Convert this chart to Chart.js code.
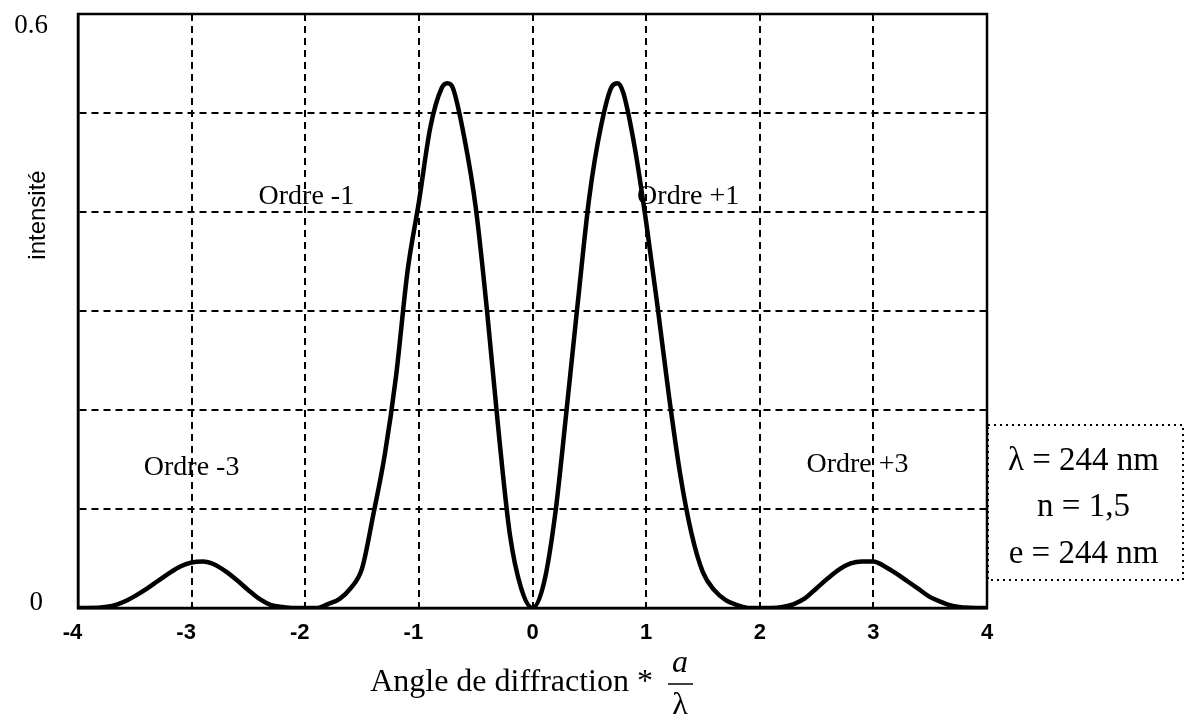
<!DOCTYPE html>
<html>
<head>
<meta charset="utf-8">
<script src="https://cdn.jsdelivr.net/npm/chart.js@4.4.1/dist/chart.umd.min.js"></script>
<style>
  html, body { margin: 0; padding: 0; background: #fff; }
  #wrap { width: 1193px; height: 718px; }
</style>
</head>
<body>
<div id="wrap"><canvas id="diffChart"></canvas></div>
<script>
// angle * a / lambda
const angles = [
  -4.0, -3.8, -3.7, -3.6, -3.5, -3.4, -3.3, -3.2, -3.1, -3.0, -2.9, -2.8, -2.7, -2.6, -2.5, -2.4, -2.3, -2.2, -2.1, -2.0,
  -1.9, -1.8, -1.7, -1.6, -1.5, -1.4, -1.3, -1.2, -1.1, -1.0, -0.9, -0.8, -0.75, -0.7, -0.6, -0.5, -0.4, -0.3, -0.2, -0.1,
  0.0, 0.1, 0.2, 0.3, 0.4, 0.5, 0.6, 0.7, 0.75, 0.8, 0.9, 1.0, 1.1, 1.2, 1.3, 1.4, 1.5, 1.6, 1.7, 1.8, 1.9,
  2.0, 2.1, 2.2, 2.3, 2.4, 2.5, 2.6, 2.7, 2.8, 2.9, 3.0, 3.1, 3.2, 3.3, 3.4, 3.5, 3.6, 3.7, 3.8, 3.9, 4.0
];
const intensity = [
  0, 0.0005, 0.002, 0.006, 0.012, 0.019, 0.027, 0.035, 0.042, 0.046, 0.047, 0.044, 0.037, 0.028, 0.018, 0.009, 0.003, 0.001, 0, 0,
  0, 0.004, 0.009, 0.02, 0.04, 0.095, 0.155, 0.235, 0.34, 0.41, 0.485, 0.525, 0.53, 0.525, 0.475, 0.405, 0.30, 0.18, 0.075, 0.02,
  0, 0.025, 0.095, 0.2, 0.31, 0.415, 0.485, 0.527, 0.53, 0.52, 0.465, 0.39, 0.305, 0.215, 0.135, 0.075, 0.036, 0.018, 0.008, 0.003, 0,
  0, 0, 0.001, 0.004, 0.01, 0.02, 0.03, 0.039, 0.045, 0.047, 0.047, 0.042, 0.035, 0.027, 0.019, 0.011, 0.006, 0.002, 0.0005, 0, 0
];

// order labels and where they sit (data units)
const orderLabels = ['Ordre -3', 'Ordre -1', 'Ordre +1', 'Ordre +3'];
const orderX = [-3.0, -1.99, 1.37, 2.86];
const orderY = [0.142, 0.416, 0.416, 0.145];

const paramLines = ['λ = 244 nm', 'n = 1,5', 'e = 244 nm'];
const yLabelValues = [0, 0.6];

const SERIF = '"Liberation Serif", "Times New Roman", serif';
const SANS = '"Liberation Sans", Arial, sans-serif';

const points = angles.map((a, i) => ({ x: a, y: intensity[i] }));

const extras = {
  id: 'extras',
  afterDatasetsDraw(chart) {
    const { ctx, chartArea: area, scales: { x, y } } = chart;
    ctx.save();

    // solid frame round the plot
    ctx.strokeStyle = '#000';
    ctx.lineWidth = 2.5;
    ctx.setLineDash([]);
    ctx.strokeRect(area.left, area.top, area.right - area.left, area.bottom - area.top);

    ctx.fillStyle = '#000';
    ctx.textBaseline = 'middle';

    // y labels, only the ends of the axis
    ctx.font = '27px ' + SERIF;
    ctx.textAlign = 'right';
    yLabelValues.forEach(v => {
      const py = y.getPixelForValue(v) + (v > 0 ? 12 : -5);
      ctx.fillText(String(v), v > 0 ? 48 : 43, py);
    });

    // order labels
    ctx.font = '28px ' + SERIF;
    ctx.textAlign = 'center';
    orderLabels.forEach((t, i) => {
      ctx.fillText(t, x.getPixelForValue(orderX[i]), y.getPixelForValue(orderY[i]));
    });

    // parameter box
    const bx = area.right + 1, by = 425, bw = 195, bh = 155;
    ctx.lineWidth = 2;
    ctx.setLineDash([2, 4]);
    ctx.strokeRect(bx, by, bw, bh);
    ctx.setLineDash([]);
    ctx.font = '33px ' + SERIF;
    paramLines.forEach((t, i) => {
      ctx.fillText(t, bx + bw / 2 - 2, by + 36 + i * 46.5);
    });

    // y title
    ctx.save();
    ctx.translate(38, 215);
    ctx.rotate(-Math.PI / 2);
    ctx.font = '24px ' + SANS;
    ctx.fillText('intensité', 0, 0);
    ctx.restore();

    // x title with a/λ fraction
    ctx.font = '32px ' + SERIF;
    ctx.textAlign = 'right';
    ctx.fillText('Angle de diffraction *', 653, 683);
    ctx.textAlign = 'center';
    ctx.font = 'italic 32px ' + SERIF;
    ctx.fillText('a', 680, 664);
    ctx.font = '32px ' + SERIF;
    ctx.fillText('λ', 680, 706);
    ctx.lineWidth = 1.5;
    ctx.beginPath();
    ctx.moveTo(668, 684);
    ctx.lineTo(693, 684);
    ctx.stroke();

    ctx.restore();
  }
};

new Chart(document.getElementById('diffChart'), {
  type: 'line',
  data: {
    datasets: [{
      data: points,
      borderColor: '#000',
      borderWidth: 4.5,
      pointRadius: 0,
      fill: false,
      cubicInterpolationMode: 'monotone'
    }]
  },
  options: {
    responsive: true,
    maintainAspectRatio: false,
    animation: false,
    layout: { padding: { left: 0, right: 206, top: 14, bottom: 0 } },
    plugins: { legend: { display: false }, tooltip: { enabled: false } },
    scales: {
      x: {
        type: 'linear',
        min: -4, max: 4,
        afterFit: s => { s.height = 110; s.paddingLeft = 0; s.paddingRight = 0; },
        ticks: {
          stepSize: 1, color: '#000', padding: 12,
          font: { family: SANS, size: 22, weight: 'bold' },
          // keep the digit itself centred under negative ticks
          callback: v => v < 0 ? v + '\u2002' : String(v)
        },
        grid: { color: '#000', lineWidth: 2, drawTicks: false },
        border: { display: true, color: '#000', width: 2.5, dash: [7, 5] }
      },
      y: {
        min: 0, max: 0.6,
        afterFit: s => { s.width = 78; s.paddingTop = 0; s.paddingBottom = 0; },
        ticks: { stepSize: 0.1, display: false },
        grid: { color: '#000', lineWidth: 2, drawTicks: false },
        border: { display: true, color: '#000', width: 2.5, dash: [7, 5] }
      }
    }
  },
  plugins: [extras]
});
</script>
</body>
</html>
